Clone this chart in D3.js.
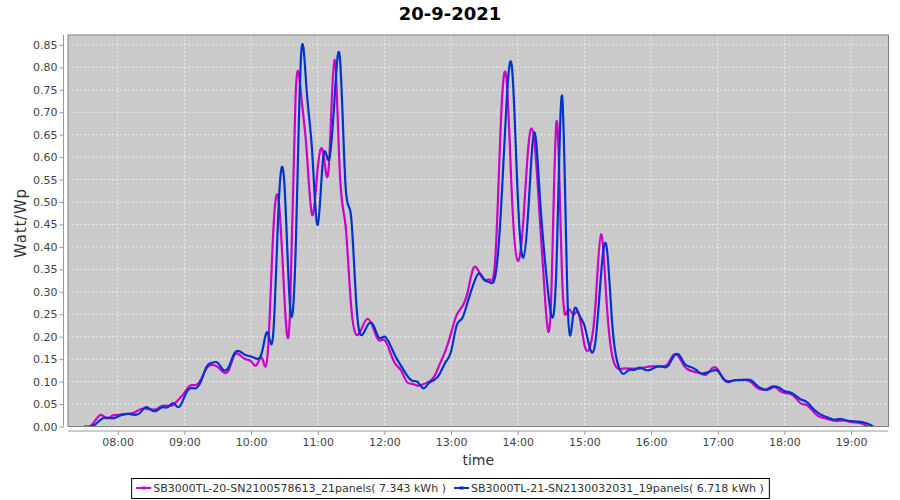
<!DOCTYPE html>
<html>
<head>
<meta charset="utf-8">
<script src="https://cdn.jsdelivr.net/npm/d3@7"></script>
<style>
  body { margin: 0; background: #fff; }
  text { font-family: "DejaVu Sans", sans-serif; }
</style>
</head>
<body>
<svg id="chart" width="900" height="500"></svg>
<script>
const chartTitle = "20-9-2021";
const xLabel = "time";
const yLabel = "Watt/Wp";
const seriesNames = [
  "SB3000TL-20-SN2100578613_21panels( 7.343 kWh )",
  "SB3000TL-21-SN2130032031_19panels( 6.718 kWh )",
];
const seriesColors = ["#cc00cc", "#0033cc"];

// samples every 5 minutes starting at 07:30
const startHour = 7, startMinute = 30, stepMinutes = 5;

const sb20Values = [
  0, 0, 0.014, 0.026, 0.018, 0.024,
  0.026, 0.027, 0.028, 0.031, 0.038, 0.04, 0.038, 0.039, 0.046, 0.046, 0.048, 0.061,
  0.075, 0.091, 0.092, 0.105, 0.13, 0.137, 0.133, 0.121, 0.126, 0.159, 0.159, 0.15,
  0.145, 0.137, 0.152, 0.162, 0.434, 0.5, 0.29, 0.25, 0.73, 0.74, 0.616, 0.471,
  0.575, 0.609, 0.579, 0.817, 0.561, 0.449, 0.271, 0.204, 0.221, 0.24, 0.219, 0.192,
  0.193, 0.167, 0.139, 0.125, 0.1, 0.095, 0.091, 0.094, 0.1, 0.112, 0.14, 0.169,
  0.208, 0.248, 0.267, 0.3, 0.352, 0.345, 0.326, 0.327, 0.382, 0.687, 0.77, 0.501,
  0.369, 0.457, 0.635, 0.635, 0.457, 0.27, 0.28, 0.68, 0.33, 0.259, 0.25, 0.251,
  0.182, 0.177, 0.273, 0.428, 0.277, 0.158, 0.129, 0.129, 0.129, 0.129, 0.129, 0.132,
  0.134, 0.134, 0.134, 0.139, 0.159, 0.155, 0.134, 0.125, 0.121, 0.118, 0.116, 0.13,
  0.127, 0.107, 0.101, 0.103, 0.104, 0.104, 0.099, 0.087, 0.082, 0.084, 0.09, 0.081,
  0.075, 0.073, 0.064, 0.051, 0.048, 0.036, 0.024, 0.019, 0.016, 0.013, 0.013, 0.013,
  0.01, 0.009, 0.006, 0, null,
];

const sb21Values = [
  0, 0, 0.005, 0.016, 0.02, 0.018,
  0.022, 0.027, 0.028, 0.026, 0.03, 0.043, 0.037, 0.035, 0.043, 0.043, 0.052, 0.043,
  0.066, 0.085, 0.085, 0.101, 0.133, 0.142, 0.142, 0.126, 0.133, 0.163, 0.167, 0.159,
  0.156, 0.151, 0.167, 0.209, 0.208, 0.5, 0.54, 0.271, 0.382, 0.825, 0.75, 0.612,
  0.449, 0.601, 0.594, 0.724, 0.82, 0.538, 0.468, 0.264, 0.204, 0.226, 0.226, 0.198,
  0.2, 0.183, 0.156, 0.135, 0.115, 0.102, 0.099, 0.085, 0.097, 0.104, 0.118, 0.143,
  0.167, 0.225, 0.241, 0.278, 0.316, 0.341, 0.327, 0.321, 0.338, 0.486, 0.724, 0.795,
  0.516, 0.376, 0.501, 0.655, 0.509, 0.356, 0.25, 0.37, 0.735, 0.27, 0.25, 0.25,
  0.225, 0.174, 0.19, 0.34, 0.4, 0.23, 0.14, 0.117, 0.126, 0.126, 0.131, 0.126,
  0.127, 0.133, 0.133, 0.134, 0.155, 0.16, 0.14, 0.133, 0.127, 0.118, 0.12, 0.124,
  0.124, 0.106, 0.099, 0.103, 0.103, 0.104, 0.103, 0.092, 0.084, 0.082, 0.088, 0.087,
  0.079, 0.076, 0.069, 0.06, 0.055, 0.042, 0.031, 0.024, 0.019, 0.015, 0.017, 0.014,
  0.012, 0.011, 0.01, 0.006, 0,
];

const yTickValues = d3.range(0, 0.851, 0.05);

const width = 900, height = 500;
const plot = { left: 68, right: 888.5, top: 35, bottom: 426.5 };

const t0 = new Date(2021, 8, 20, startHour, startMinute);
const timeAt = (i) => d3.timeMinute.offset(t0, i * stepMinutes);
const series = [sb20Values, sb21Values].map((vals, s) => ({
  name: seriesNames[s],
  color: seriesColors[s],
  points: vals.map((v, i) => ({ t: timeAt(i), v: v })),
}));

const svg = d3.select("#chart");

const x = d3.scaleTime()
  .domain([new Date(2021, 8, 20, 7, 15, 16), new Date(2021, 8, 20, 19, 33, 40)])
  .range([plot.left, plot.right]);
const y = d3.scaleLinear().domain([0, 0.872]).range([plot.bottom, plot.top]);

// title
svg.append("text")
  .attr("x", width / 2).attr("y", 20)
  .attr("text-anchor", "middle")
  .style("font-size", "18px").style("font-weight", "bold")
  .text(chartTitle);

// plot background
svg.append("rect")
  .attr("x", plot.left).attr("y", plot.top)
  .attr("width", plot.right - plot.left).attr("height", plot.bottom - plot.top)
  .attr("fill", "#cacaca");

const xTicks = d3.timeHour.range(new Date(2021, 8, 20, 8), new Date(2021, 8, 20, 19, 30));

// grid
const grid = svg.append("g").attr("stroke", "#f4f4f4").attr("stroke-width", 0.8)
  .attr("stroke-dasharray", "2,2");
grid.selectAll(".gx").data(xTicks).join("line")
  .attr("x1", (d) => x(d)).attr("x2", (d) => x(d))
  .attr("y1", plot.top).attr("y2", plot.bottom);
grid.selectAll(".gy").data(yTickValues.slice(1)).join("line")
  .attr("x1", plot.left).attr("x2", plot.right)
  .attr("y1", (d) => y(d)).attr("y2", (d) => y(d));

// clip
svg.append("clipPath").attr("id", "clip").append("rect")
  .attr("x", plot.left).attr("y", plot.top)
  .attr("width", plot.right - plot.left).attr("height", plot.bottom - plot.top);

const line = d3.line()
  .defined((d) => d.v !== null)
  .x((d) => x(d.t))
  .y((d) => y(d.v))
  .curve(d3.curveNatural);

svg.append("g").attr("clip-path", "url(#clip)")
  .selectAll("path").data(series).join("path")
  .attr("fill", "none")
  .attr("stroke", (d) => d.color)
  .attr("stroke-width", 2.2)
  .attr("stroke-linejoin", "round")
  .attr("d", (d) => line(d.points));

// plot outline
svg.append("rect")
  .attr("x", plot.left).attr("y", plot.top)
  .attr("width", plot.right - plot.left).attr("height", plot.bottom - plot.top)
  .attr("fill", "none").attr("stroke", "#808080").attr("stroke-width", 1);

// axes
const xAxis = d3.axisBottom(x).tickValues(xTicks)
  .tickFormat(d3.timeFormat("%H:%M")).tickSize(4).tickPadding(3);
const yAxis = d3.axisLeft(y).tickValues(yTickValues)
  .tickFormat(d3.format(".2f")).tickSize(4).tickPadding(2);

const gx = svg.append("g").attr("transform", `translate(0, ${plot.bottom + 4.5})`).call(xAxis);
gx.select(".domain").attr("d", `M${plot.left},0H${plot.right}`);
const gy = svg.append("g").attr("transform", `translate(${plot.left - 4.5}, 0)`).call(yAxis);
gy.select(".domain").attr("d", `M0,${plot.top}V${plot.bottom}`);

[gx, gy].forEach((g) => {
  g.select(".domain").attr("stroke", "#999");
  g.selectAll(".tick line").attr("stroke", "#999");
  g.selectAll(".tick text")
    .attr("fill", "#444")
    .style("font-family", "DejaVu Sans, sans-serif")
    .style("font-size", "11px");
});

// axis labels
svg.append("text")
  .attr("x", (plot.left + plot.right) / 2).attr("y", 465)
  .attr("text-anchor", "middle").attr("fill", "#333")
  .style("font-size", "14px").text(xLabel);
svg.append("text")
  .attr("transform", "translate(26, 223) rotate(-90)")
  .attr("text-anchor", "middle").attr("fill", "#333")
  .style("font-size", "15px").style("letter-spacing", "0.8px").text(yLabel);

// legend
const legend = svg.append("g");
const items = legend.selectAll("g").data(series).join("g");
items.append("line")
  .attr("x1", 0).attr("x2", 15).attr("y1", 0).attr("y2", 0)
  .attr("stroke", (d) => d.color).attr("stroke-width", 2);
items.append("rect")
  .attr("x", 5.5).attr("y", -1.5).attr("width", 4).attr("height", 3)
  .attr("fill", (d) => d.color);
items.append("text")
  .attr("x", 17).attr("y", 4)
  .attr("fill", "#333")
  .style("font-size", "11px")
  .text((d) => d.name);

let offset = 0;
items.each(function () {
  const w = 17 + this.querySelector("text").getComputedTextLength();
  d3.select(this).attr("transform", `translate(${offset}, 0)`);
  offset += w + 8;
});
const legendWidth = offset - 8;
const lx = width / 2 - legendWidth / 2;
legend.attr("transform", `translate(${lx}, 488)`);
svg.append("rect")
  .attr("x", lx - 4.5).attr("y", 478.5)
  .attr("width", legendWidth + 10).attr("height", 20)
  .attr("fill", "none").attr("stroke", "#000").attr("stroke-width", 1);
</script>
</body>
</html>
